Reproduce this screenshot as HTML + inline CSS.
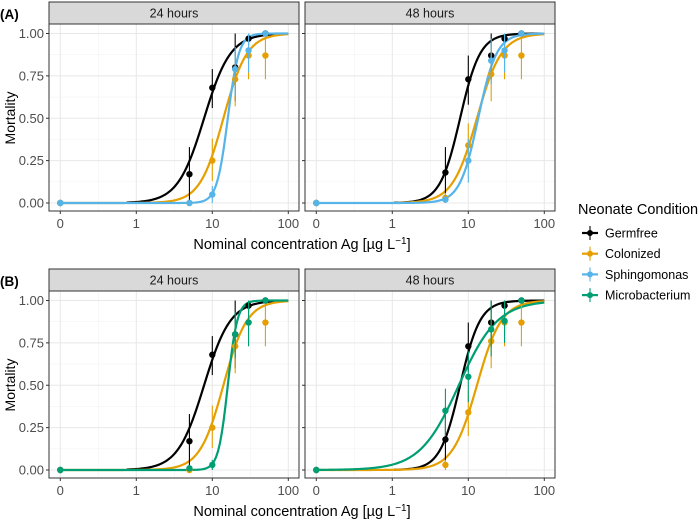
<!DOCTYPE html>
<html><head><meta charset="utf-8">
<style>
body{margin:0;background:#fff;}
svg{display:block;font-family:"Liberation Sans",sans-serif;}
</style></head>
<body>
<svg id="chart" width="699" height="523" viewBox="0 0 699 523"></svg>
<script>
// ---- data ----
const concentrations = [0, 5, 10, 20, 30, 50];
const seriesNames = ["Germfree", "Colonized", "Sphingomonas", "Microbacterium"];
const seriesColors = ["#000000", "#E69F00", "#56B4E9", "#009E73"];
const panelTitles = ["24 hours", "48 hours", "24 hours", "48 hours"];
const rowLabels = ["(A)", "(B)"];
const yTicks = [0, 0.25, 0.5, 0.75, 1.0];
const yTickLabels = ["0.00", "0.25", "0.50", "0.75", "1.00"];
const xTicks = [0, 1, 10, 100];
const xTickLabels = ["0", "1", "10", "100"];

// panel A 24h
const a24Germ = [0, 0.17, 0.68, 0.80, 0.97, 1.0];
const a24GermLo = [0, 0.0, 0.56, 0.60, 0.93, 1.0];
const a24GermHi = [0, 0.33, 0.79, 1.0, 1.0, 1.0];
const a24Col = [0, 0.0, 0.25, 0.73, 0.87, 0.87];
const a24ColLo = [0, 0.0, 0.13, 0.57, 0.73, 0.73];
const a24ColHi = [0, 0.0, 0.38, 0.87, 1.0, 1.0];
const a24Sph = [0, 0.0, 0.05, 0.79, 0.90, 1.0];
const a24SphLo = [0, 0.0, 0.0, 0.63, 0.77, 1.0];
const a24SphHi = [0, 0.0, 0.1, 0.92, 1.0, 1.0];
// panel A 48h
const a48Germ = [0, 0.18, 0.73, 0.87, 0.97, 1.0];
const a48GermLo = [0, 0.03, 0.58, 0.73, 0.93, 1.0];
const a48GermHi = [0, 0.33, 0.87, 1.0, 1.0, 1.0];
const a48Col = [0, 0.03, 0.34, 0.76, 0.87, 0.87];
const a48ColLo = [0, 0.0, 0.2, 0.6, 0.73, 0.73];
const a48ColHi = [0, 0.06, 0.47, 0.93, 1.0, 1.0];
const a48Sph = [0, 0.02, 0.25, 0.84, 0.90, 1.0];
const a48SphLo = [0, 0.0, 0.12, 0.7, 0.77, 1.0];
const a48SphHi = [0, 0.05, 0.38, 0.97, 1.0, 1.0];
// panel B 24h
const b24Mic = [0, 0.01, 0.03, 0.80, 0.87, 1.0];
const b24MicLo = [0, 0.0, 0.0, 0.66, 0.73, 1.0];
const b24MicHi = [0, 0.03, 0.06, 0.93, 1.0, 1.0];
// panel B 48h
const b48Mic = [0, 0.35, 0.55, 0.83, 0.88, 1.0];
const b48MicLo = [0, 0.2, 0.4, 0.67, 0.75, 1.0];
const b48MicHi = [0, 0.48, 0.7, 1.0, 1.0, 1.0];

// curve parameters (EC50, slope, curve start concentration)
const ec50 = {a24:[7.8,14,16,0], a48:[7.8,13,13.5,0], b24:[7.8,14,0,16], b48:[7.8,13,0,7.5]};
const slopes = {a24:[2.5,2.8,6,0], a48:[3.3,2.7,3.6,0], b24:[2.5,2.8,0,7], b48:[3.3,2.7,0,1.7]};
const curveStart = {a24:[0.75,0.1,0.1,0], a48:[1.05,1.2,0.1,0], b24:[0.75,0.1,0,0.1], b48:[1.05,0.1,0,0.1]};

const panels = [
  {key:"a24", left:49, top:24, series:[[a24Germ,a24GermLo,a24GermHi,0],[a24Col,a24ColLo,a24ColHi,1],[a24Sph,a24SphLo,a24SphHi,2]]},
  {key:"a48", left:305, top:24, series:[[a48Germ,a48GermLo,a48GermHi,0],[a48Col,a48ColLo,a48ColHi,1],[a48Sph,a48SphLo,a48SphHi,2]]},
  {key:"b24", left:49, top:291, series:[[a24Germ,a24GermLo,a24GermHi,0],[a24Col,a24ColLo,a24ColHi,1],[b24Mic,b24MicLo,b24MicHi,3]]},
  {key:"b48", left:305, top:291, series:[[a48Germ,a48GermLo,a48GermHi,0],[a48Col,a48ColLo,a48ColHi,1],[b48Mic,b48MicLo,b48MicHi,3]]}
];

const NS = "http://www.w3.org/2000/svg";
const svg = document.getElementById("chart");
function mk(tag, attrs, parent){
  const e = document.createElementNS(NS, tag);
  for (const k in attrs) e.setAttribute(k, attrs[k]);
  (parent||svg).appendChild(e);
  return e;
}
const PW = 250, PH = 187;
function xs(p, c){ const l = Math.log10(Math.max(c, 0.1)); return p.left + 11.3 + (l + 1) * 76; }
function ys(p, v){ return p.top + 179 - v * 169.5; }

panels.forEach((p, pi) => {
  const g = mk("g", {});
  
  
  mk("rect", {x:p.left, y:p.top, width:PW, height:PH, fill:"#fff"}, g);
  [0.125,0.375,0.625,0.875].forEach(v => mk("line",{x1:p.left,x2:p.left+PW,y1:ys(p,v),y2:ys(p,v),stroke:"#f3f3f3","stroke-width":0.6},g));
  [0.316,3.16,31.6].forEach(c => mk("line",{x1:xs(p,c),x2:xs(p,c),y1:p.top,y2:p.top+PH,stroke:"#f3f3f3","stroke-width":0.6},g));
  yTicks.forEach(v => mk("line",{x1:p.left,x2:p.left+PW,y1:ys(p,v),y2:ys(p,v),stroke:"#e8e8e8","stroke-width":1},g));
  xTicks.forEach(c => mk("line",{x1:xs(p,c),x2:xs(p,c),y1:p.top,y2:p.top+PH,stroke:"#e8e8e8","stroke-width":1},g));
  p.series.forEach(s => {
    const si = s[3];
    const e = ec50[p.key][si], b = slopes[p.key][si], st = curveStart[p.key][si];
    let d = "";
    for (let i = 0; i <= 120; i++){
      const lc = Math.log10(st) + (2 - Math.log10(st)) * i / 120;
      const c = Math.pow(10, lc);
      const v = 1 / (1 + Math.pow(e / c, b));
      d += (i ? "L" : "M") + xs(p, c).toFixed(2) + "," + ys(p, v).toFixed(2);
    }
    const path = mk("path", {d:d, fill:"none", stroke:seriesColors[si], "stroke-width":2.2}, g);
    
    
  });
  p.series.forEach(s => {
    const si = s[3];
    concentrations.forEach((c, i) => {
      const x = xs(p, c);
      mk("line",{x1:x,x2:x,y1:ys(p,s[1][i]),y2:ys(p,s[2][i]),stroke:seriesColors[si],"stroke-width":1.1},g);
      const pt = mk("circle",{cx:x, cy:ys(p,s[0][i]), r:3.2, fill:seriesColors[si]}, g);
      
      
    });
  });
  mk("rect", {x:p.left, y:p.top, width:PW, height:PH, fill:"none", stroke:"#333", "stroke-width":1}, g);
  const strip = mk("rect", {x:p.left, y:p.top-22, width:PW, height:22, fill:"#d9d9d9", stroke:"#333", "stroke-width":1}, g);
  
  
  const t = mk("text", {x:p.left+PW/2, y:p.top-6.5, "text-anchor":"middle", "font-size":12.5, fill:"#1a1a1a"}, g);
  t.textContent = panelTitles[pi];
  xTicks.forEach((c, i) => {
    mk("line",{x1:xs(p,c),x2:xs(p,c),y1:p.top+PH,y2:p.top+PH+3,stroke:"#333"},g);
    const tl = mk("text",{x:xs(p,c), y:p.top+PH+17, "text-anchor":"middle","font-size":13, fill:"#4d4d4d"},g);
    tl.textContent = xTickLabels[i];
  });
  if (p.left < 100){
    yTicks.forEach((v, i) => {
      mk("line",{x1:p.left-3,x2:p.left,y1:ys(p,v),y2:ys(p,v),stroke:"#333"},g);
      const tl = mk("text",{x:p.left-5, y:ys(p,v)+4.5, "text-anchor":"end","font-size":13, fill:"#4d4d4d"},g);
      tl.textContent = yTickLabels[i];
    });
  } else {
    yTicks.forEach(v => mk("line",{x1:p.left-3,x2:p.left,y1:ys(p,v),y2:ys(p,v),stroke:"#333"},g));
  }
});

[[24,"(A)"],[291,"(B)"]].forEach((r, ri) => {
  const top = r[0];
  const lab = mk("text",{x:0, y:top-5, "font-size":13.5, "font-weight":"bold", fill:"#000"});
  lab.textContent = rowLabels[ri];
  
  
  const yt = mk("text",{x:0,y:0,"font-size":14,"text-anchor":"middle",fill:"#000",transform:"translate(15,"+(top+94)+") rotate(-90)"});
  yt.textContent = "Mortality";
  
  
  const xt = mk("text",{x:302,y:top+PH+38,"font-size":14.5,"text-anchor":"middle",fill:"#000"});
  xt.innerHTML = 'Nominal concentration Ag [µg L<tspan dy="-5" font-size="10">−1</tspan><tspan dy="5">]</tspan>';
  
  
});

const lg = mk("g", {});


const lt = mk("text",{x:578,y:214,"font-size":14.5,fill:"#000"},lg);
lt.textContent = "Neonate Condition";
seriesNames.forEach((n, i) => {
  const y = 233 + i * 20.7;
  const e = mk("g", {}, lg);
  
  
  mk("line",{x1:582,x2:598,y1:y,y2:y,stroke:seriesColors[i],"stroke-width":2.2},e);
  mk("line",{x1:590,x2:590,y1:y-7,y2:y+7,stroke:seriesColors[i],"stroke-width":1.1},e);
  mk("circle",{cx:590,cy:y,r:3,fill:seriesColors[i]},e);
  const t = mk("text",{x:605,y:y+4.5,"font-size":12.5,fill:"#000"},e);
  t.textContent = n;
});
</script>
</body></html>
